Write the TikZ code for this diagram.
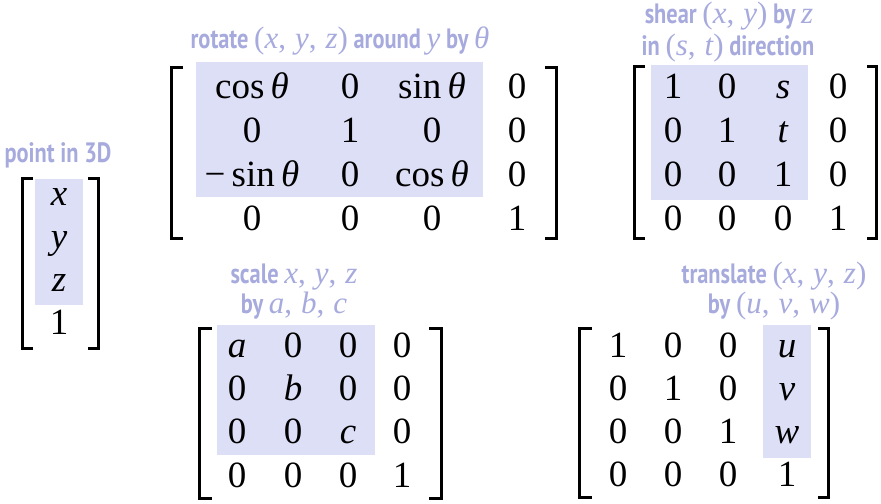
\documentclass[tikz,border=0pt]{standalone}
\usepackage{fontspec}
\setmainfont{Liberation Serif}
\setsansfont[FakeStretch=0.8]{PT Sans}
\definecolor{hl}{RGB}{221,223,247}
\definecolor{lab}{RGB}{167,170,221}
\newcommand\mth[1]{{\fontsize{15.5}{18}\rmfamily\mdseries\itshape #1}}
\newcommand\mup[1]{{\fontsize{15.5}{18}\rmfamily\mdseries #1}}
\newcommand\cm{\mup{,\hspace{4.5pt}}}
\tikzset{
  ent/.style={inner sep=0pt, anchor=base, font=\fontsize{18.5}{22}\selectfont},
  lbl/.style={inner sep=0pt, anchor=base, text=lab, font=\fontsize{14}{16}\sffamily\bfseries\selectfont},
  brk/.style={line width=1.6pt, line cap=butt, line join=miter},
  hlbox/.style={fill=hl, draw=none}
}
\begin{document}
\begin{tikzpicture}[x=0.5pt,y=-0.5pt]
\useasboundingbox (0,0) rectangle (881,503);
% highlight boxes
\fill[hlbox] (35,179) rectangle (83,305);
\fill[hlbox] (196,62) rectangle (483,197);
\fill[hlbox] (651,65) rectangle (808,200);
\fill[hlbox] (217,325) rectangle (375,455);
\fill[hlbox] (763,325) rectangle (811,458);
% brackets
\draw[brk] (33,178.6) -- (22.6,178.6) -- (22.6,348.4) -- (33,348.4);
\draw[brk] (88,178.6) -- (98.4,178.6) -- (98.4,348.4) -- (88,348.4);
\draw[brk] (183,67.6) -- (171.6,67.6) -- (171.6,238.4) -- (183,238.4);
\draw[brk] (545,67.6) -- (556.4,67.6) -- (556.4,238.4) -- (545,238.4);
\draw[brk] (645,66.6) -- (634.6,66.6) -- (634.6,238.4) -- (645,238.4);
\draw[brk] (867,66.6) -- (876.4,66.6) -- (876.4,238.4) -- (867,238.4);
\draw[brk] (212,328.6) -- (199.6,328.6) -- (199.6,498.4) -- (212,498.4);
\draw[brk] (429,328.6) -- (441.4,328.6) -- (441.4,498.4) -- (429,498.4);
\draw[brk] (592,328.6) -- (579.6,328.6) -- (579.6,497.4) -- (592,497.4);
\draw[brk] (818,328.6) -- (828.4,328.6) -- (828.4,497.4) -- (818,497.4);
% labels
\node[lbl] (lp) at (58,162) {point in 3D};
\node[lbl] (lr) at (340,48) {rotate \mup{(}\mth{x}\cm\mth{y}\cm\mth{z}\mup{)} around \mth{y} by \mth{θ}};
\node[lbl] (ls1) at (729,24) {shear \mup{(}\mth{x}\cm\mth{y}\mup{)} by \mth{z}};
\node[lbl] (ls2) at (728,55) {in \mup{(}\mth{s}\cm\mth{t}\mup{)} direction};
\node[lbl] (lc1) at (294,283) {scale \mth{x}\cm\mth{y}\cm\mth{z}};
\node[lbl] (lc2) at (294,313) {by \mth{a}\cm\mth{b}\cm\mth{c}};
\node[lbl] (lt1) at (774,283) {translate \mup{(}\mth{x}\cm\mth{y}\cm\mth{z}\mup{)}};
\node[lbl] (lt2) at (774,313) {by \mup{(}\mth{u}\cm\mth{v}\cm\mth{w}\mup{)}};
% point
\node[ent] (p1) at (59,205) {\textit{x}};
\node[ent] (p2) at (59,248) {\textit{y}};
\node[ent] (p3) at (59,291) {\textit{z}};
\node[ent] (p4) at (59,334) {1};
% rotate
\foreach \x/\t [count=\c] in {252/{cos\,\textit{θ}}, 350/0, 432/{sin\,\textit{θ}}, 517/0}
  \node[ent] (r1\c) at (\x,98) {\t};
\foreach \x/\t [count=\c] in {252/0, 350/1, 432/0, 517/0}
  \node[ent] (r2\c) at (\x,142) {\t};
\foreach \x/\t [count=\c] in {252/{−\,sin\,\textit{θ}}, 350/0, 432/{cos\,\textit{θ}}, 517/0}
  \node[ent] (r3\c) at (\x,186) {\t};
\foreach \x/\t [count=\c] in {252/0, 350/0, 432/0, 517/1}
  \node[ent] (r4\c) at (\x,230) {\t};
% shear
\foreach \x/\t [count=\c] in {673/1, 727/0, 783/{\textit{s}}, 838/0}
  \node[ent] (s1\c) at (\x,98) {\t};
\foreach \x/\t [count=\c] in {673/0, 727/1, 783/{\textit{t}}, 838/0}
  \node[ent] (s2\c) at (\x,142) {\t};
\foreach \x/\t [count=\c] in {673/0, 727/0, 783/1, 838/0}
  \node[ent] (s3\c) at (\x,186) {\t};
\foreach \x/\t [count=\c] in {673/0, 727/0, 783/0, 838/1}
  \node[ent] (s4\c) at (\x,230) {\t};
% scale
\foreach \x/\t [count=\c] in {237/{\textit{a}}, 293/0, 348/0, 402/0}
  \node[ent] (c1\c) at (\x,357) {\t};
\foreach \x/\t [count=\c] in {237/0, 293/{\textit{b}}, 348/0, 402/0}
  \node[ent] (c2\c) at (\x,400) {\t};
\foreach \x/\t [count=\c] in {237/0, 293/0, 348/{\textit{c}}, 402/0}
  \node[ent] (c3\c) at (\x,443) {\t};
\foreach \x/\t [count=\c] in {237/0, 293/0, 348/0, 402/1}
  \node[ent] (c4\c) at (\x,487) {\t};
% translate
\foreach \x/\t [count=\c] in {618/1, 673/0, 728/0, 787/{\textit{u}}}
  \node[ent] (t1\c) at (\x,357) {\t};
\foreach \x/\t [count=\c] in {618/0, 673/1, 728/0, 787/{\textit{v}}}
  \node[ent] (t2\c) at (\x,400) {\t};
\foreach \x/\t [count=\c] in {618/0, 673/0, 728/1, 787/{\textit{w}}}
  \node[ent] (t3\c) at (\x,443) {\t};
\foreach \x/\t [count=\c] in {618/0, 673/0, 728/0, 787/1}
  \node[ent] (t4\c) at (\x,486) {\t};
\end{tikzpicture}
\end{document}
